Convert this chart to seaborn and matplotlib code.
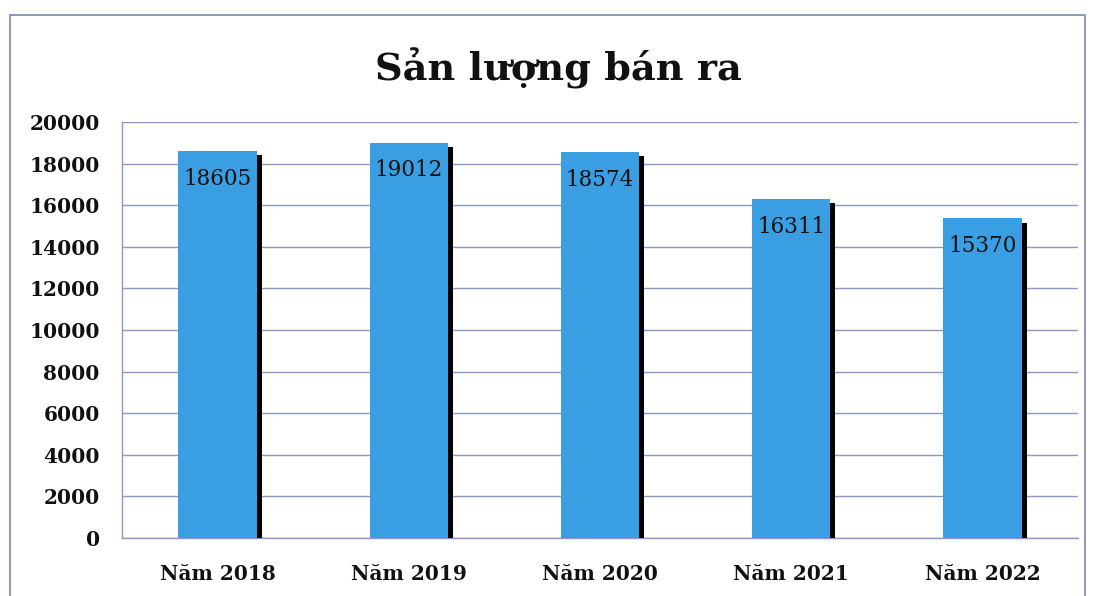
import numpy as np
import pandas as pd
import matplotlib.pyplot as plt
import matplotlib.patheffects as pe
from matplotlib.patches import Rectangle
import seaborn as sns

# ========== 数据 ==========
years = ["Năm 2018", "Năm 2019", "Năm 2020", "Năm 2021", "Năm 2022"]
values = [18605, 19012, 18574, 16311, 15370]
y_ticks = list(range(0, 20001, 2000))

df = pd.DataFrame({"Năm": years, "Sản lượng": values})

BAR = "#3a9fe2"
GRID = "#8d97bf"

sns.set_theme(style="white")
plt.rcParams["font.family"] = ["DejaVu Serif", "DejaVu Sans"]

fig = plt.figure(figsize=(10.95, 5.96), dpi=100)
ax = fig.add_axes([0.1114, 0.0973, 0.873, 0.698])

sns.barplot(data=df, x="Năm", y="Sản lượng", ax=ax, color=BAR,
            width=0.41, saturation=1, zorder=3)

# bóng đổ bên phải cột
for bar in ax.patches:
    bar.set_path_effects([pe.SimplePatchShadow(offset=(3.6, -3.2),
                                                shadow_rgbFace="black",
                                                alpha=1.0),
                          pe.Normal()])
    bar.set_edgecolor("none")

ax.bar_label(ax.containers[0], labels=[str(v) for v in values],
             padding=-28, fontsize=15.5, color="#111111", zorder=5)

ax.set_xlim(-0.5, len(years) - 0.5)
ax.set_ylim(0, 20000)
ax.set_yticks(y_ticks)
ax.set_yticklabels([str(t) for t in y_ticks], fontsize=14.5,
                   fontweight="bold", color="#111111")
ax.set_xticks(range(len(years)))
ax.set_xticklabels(years, fontsize=14.5, fontweight="bold", color="#111111")
ax.set_xticks(np.arange(-0.5, len(years), 1.0), minor=True)
ax.tick_params(axis="x", which="major", length=0, pad=19)
ax.tick_params(axis="x", which="minor", length=6, width=1, color=GRID,
               direction="out")
ax.tick_params(axis="y", length=7, width=1, color=GRID, direction="out", pad=9)
ax.set_xlabel("")
ax.set_ylabel("")

ax.yaxis.grid(True, color=GRID, linewidth=1, zorder=0)
ax.set_axisbelow(True)
for s in ["top", "right"]:
    ax.spines[s].set_visible(False)
for s in ["left", "bottom"]:
    ax.spines[s].set_color(GRID)
    ax.spines[s].set_linewidth(1)

fig.text(0.51, 0.885, "Sản lượng bán ra", ha="center", va="center",
         fontsize=27.5, fontweight="bold", color="#111111")

# khung biểu đồ
fig.patches.append(Rectangle((0.009, -0.02), 0.982, 0.995,
                             transform=fig.transFigure, fill=False,
                             edgecolor="#7f86b0", linewidth=1.2))

plt.savefig("out.png", dpi=100)
